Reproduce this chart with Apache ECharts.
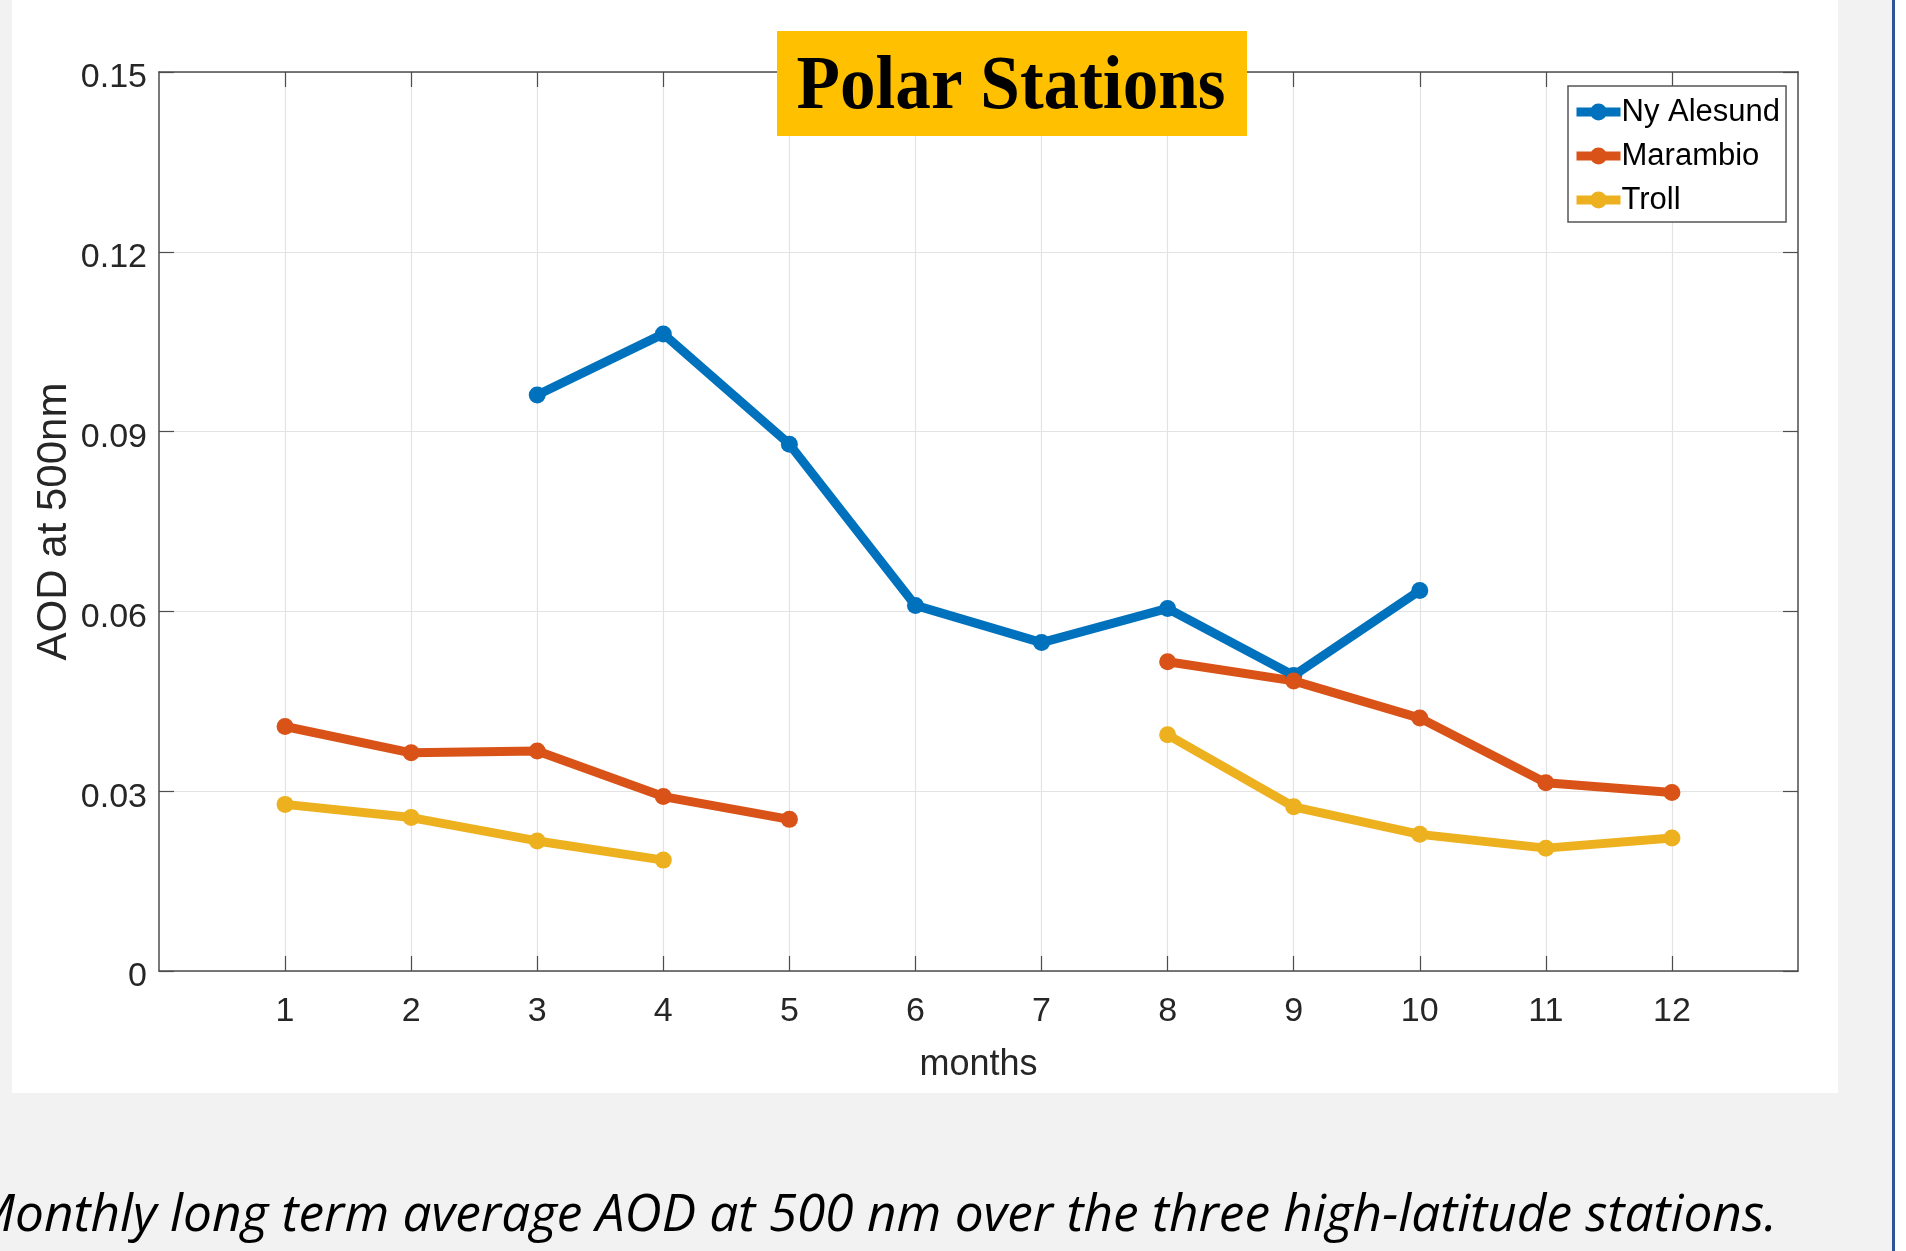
<!DOCTYPE html>
<html><head><meta charset="utf-8">
<script src="https://cdn.jsdelivr.net/npm/echarts@6/dist/echarts.min.js"></script>
<style>html,body{margin:0;padding:0;background:#f2f2f2;} #c{width:1906px;height:1251px;}</style>
</head><body><div id="c"></div>
<script>
// ---- data ----
const months = [1, 2, 3, 4, 5, 6, 7, 8, 9, 10, 11, 12];
const nyAlesund = [null, null, 0.0961, 0.1063, 0.0879, 0.0610, 0.0548, 0.0605, 0.0493, 0.0635, null, null];
const marambio  = [0.0408, 0.0364, 0.0367, 0.0291, 0.0253, null, null, 0.0516, 0.0484, 0.0422, 0.0314, 0.0298];
const troll     = [0.0278, 0.0256, 0.0217, 0.0185, null, null, null, 0.0394, 0.0274, 0.0228, 0.0205, 0.0222];
const seriesNames = ['Ny Alesund', 'Marambio', 'Troll'];
const yTickLabels = ['0', '0.03', '0.06', '0.09', '0.12', '0.15'];
const xTickValues = [1, 2, 3, 4, 5, 6, 7, 8, 9, 10, 11, 12];
const titleText = 'Polar Stations';
const xName = 'months';
const yName = 'AOD at 500nm';
const captionText = 'Monthly long term average AOD at 500 nm over the three high-latitude stations.';

// ---- helpers ----
function measure(text, font) {
  const ctx = document.createElement('canvas').getContext('2d');
  ctx.font = font;
  return ctx.measureText(text).width;
}
function pairs(vals) { return months.map((m, i) => [m, vals[i]]); }

const colors = ['#0072BD', '#D95319', '#EDB120'];
const axisColor = '#4d4d4d';
const textColor = '#262626';
const sansFont = '"Liberation Sans", Arial, sans-serif';

// caption sizing
const capFontSize = 52;
const capFont = 'italic ' + capFontSize + 'px "Open Sans"';
const capFull = measure(captionText, capFont);
const capM = measure('M', capFont);
const capScale = (1777 - 15) / (capFull - capM);
const capX = 15 - capM * capScale;

// title sizing
const titleFontSize = 76;
const titleFont = 'bold ' + titleFontSize + 'px "Liberation Serif"';
const titleScale = 429 / measure(titleText, titleFont);

const chart = echarts.init(document.getElementById('c'), null, {renderer: 'canvas'});

function mkSeries(name, vals, color) {
  return {
    name: name, type: 'line', data: pairs(vals),
    connectNulls: false, symbol: 'circle', symbolSize: 17,
    lineStyle: {width: 9, color: color},
    itemStyle: {color: color},
    emphasis: {disabled: true},
    animation: false, z: 3
  };
}

const option = {
  backgroundColor: '#f2f2f2',
  animation: false,
  grid: {left: 159, right: 108, top: 72, bottom: 280, containLabel: false},
  xAxis: [{
    type: 'value', min: 0, max: 13, interval: 1, position: 'bottom',
    name: xName, nameLocation: 'middle', nameGap: 76,
    nameTextStyle: {fontSize: 36, color: textColor, fontFamily: sansFont},
    axisLine: {show: true, onZero: false, lineStyle: {color: axisColor, width: 1.5}},
    axisTick: {show: true, inside: true, length: 15, customValues: xTickValues, lineStyle: {color: axisColor, width: 1.2}},
    axisLabel: {show: true, customValues: xTickValues, margin: 24, fontSize: 34, color: textColor, fontFamily: sansFont},
    splitLine: {show: true, lineStyle: {color: '#e3e3e3', width: 1.2}}
  }, {
    type: 'value', min: 0, max: 13, interval: 1, position: 'top',
    axisLine: {show: true, onZero: false, lineStyle: {color: axisColor, width: 1.5}},
    axisTick: {show: true, inside: true, length: 15, customValues: xTickValues, lineStyle: {color: axisColor, width: 1.2}},
    axisLabel: {show: false},
    splitLine: {show: false}
  }],
  yAxis: [{
    type: 'value', min: 0, max: 0.15, interval: 0.03, position: 'left',
    name: yName, nameLocation: 'middle', nameRotate: 90, nameGap: 84, nameMoveOverlap: false,
    nameTextStyle: {fontSize: 42, color: textColor, fontFamily: sansFont},
    axisLine: {show: true, onZero: false, lineStyle: {color: axisColor, width: 1.5}},
    axisTick: {show: true, inside: true, length: 15, lineStyle: {color: axisColor, width: 1.2}},
    axisLabel: {show: true, margin: 12, color: textColor,
      formatter: function (v) { return '{v|' + yTickLabels[Math.round(v / 0.03)] + '}'; },
      rich: {v: {fontSize: 34, color: textColor, fontFamily: sansFont, padding: [12, 0, 0, 0]}}},
    splitLine: {show: true, lineStyle: {color: '#e3e3e3', width: 1.2}}
  }, {
    type: 'value', min: 0, max: 0.15, interval: 0.03, position: 'right',
    axisLine: {show: true, onZero: false, lineStyle: {color: axisColor, width: 1.5}},
    axisTick: {show: true, inside: true, length: 15, lineStyle: {color: axisColor, width: 1.2}},
    axisLabel: {show: false},
    splitLine: {show: false}
  }],
  legend: {
    show: true, orient: 'vertical', left: 1568, top: 86,
    data: seriesNames,
    backgroundColor: '#ffffff', borderColor: '#555555', borderWidth: 1.5, borderRadius: 0,
    padding: [10, 6, 6, 4], itemGap: 12, itemWidth: 44, itemHeight: 21,
    lineStyle: {width: 9},
    textStyle: {fontSize: 31, lineHeight: 32, color: '#000000', fontFamily: sansFont, padding: [0, 0, 0, -4]},
    selectedMode: false, z: 10
  },
  series: [
    mkSeries(seriesNames[0], nyAlesund, colors[0]),
    mkSeries(seriesNames[1], marambio, colors[1]),
    mkSeries(seriesNames[2], troll, colors[2])
  ],
  graphic: [
    {type: 'rect', z: -100, silent: true, shape: {x: 12, y: 0, width: 1826, height: 1093}, style: {fill: '#ffffff'}},
    {type: 'rect', z: -100, silent: true, shape: {x: 1892, y: 0, width: 3, height: 1251}, style: {fill: '#2F5597'}},
    {type: 'rect', z: -100, silent: true, shape: {x: 1895, y: 0, width: 11, height: 1251}, style: {fill: '#ffffff'}},
    {type: 'rect', z: 100, silent: true, shape: {x: 777, y: 31, width: 470, height: 105}, style: {fill: '#FFC000'}},
    {type: 'text', z: 101, silent: true, x: 1011, y: 88, scaleX: titleScale, scaleY: 1,
      style: {text: titleText, font: titleFont, fill: '#000000', textAlign: 'center', textVerticalAlign: 'middle'}},
    {type: 'text', z: 101, silent: true, x: capX, y: 1216, scaleX: capScale, scaleY: 1,
      style: {text: captionText, font: capFont, fill: '#000000', textAlign: 'left', textVerticalAlign: 'middle'}}
  ]
};
chart.setOption(option);
</script>
</body></html>
